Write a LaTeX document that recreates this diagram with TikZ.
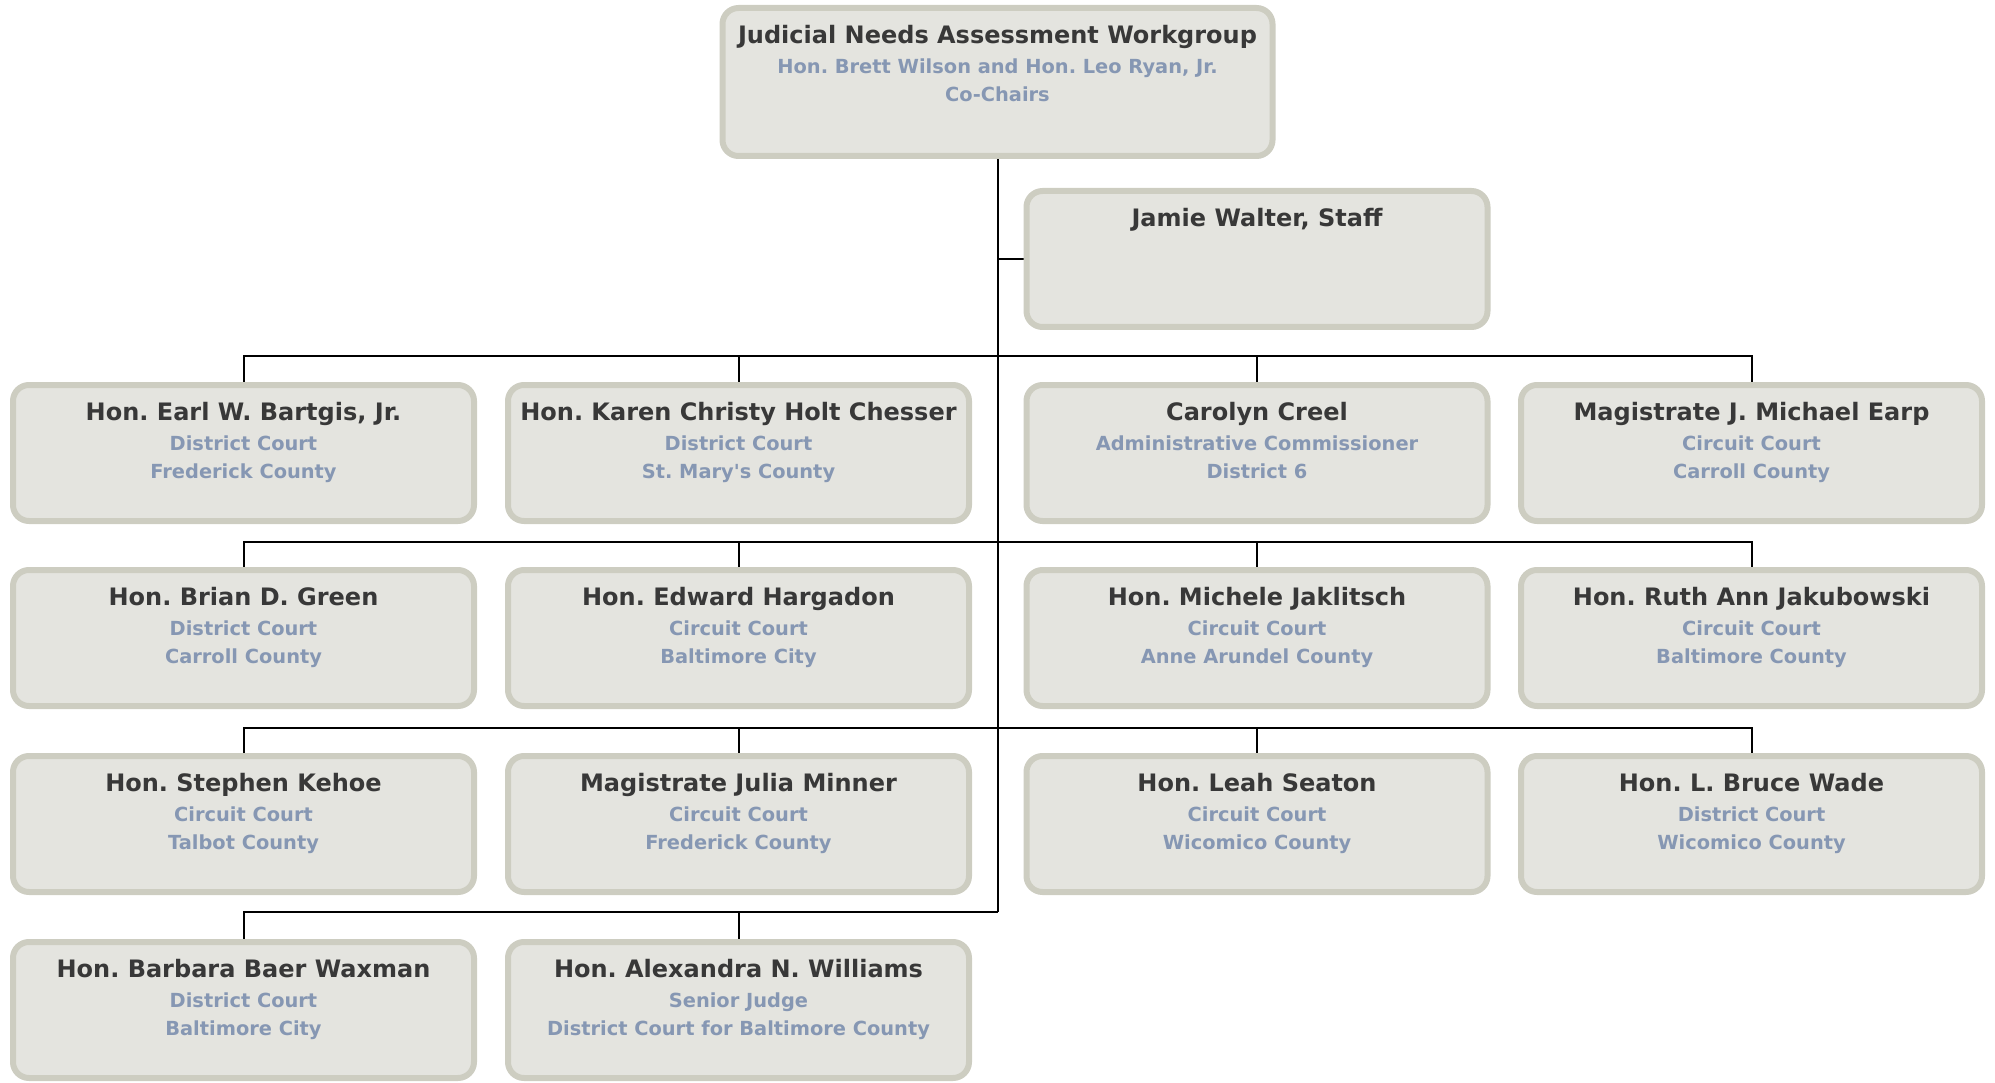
\documentclass[tikz,border=0pt]{standalone}
\usepackage{fontspec}
\setmainfont{DejaVu Sans}
\usetikzlibrary{positioning}
\usetikzlibrary{backgrounds}
\frenchspacing
\definecolor{cardfill}{HTML}{E4E4DF}
\definecolor{cardline}{HTML}{CDCDC1}
\definecolor{namegray}{HTML}{383838}
\definecolor{subblue}{HTML}{8697B3}
\newcommand{\namefont}{\fontsize{24}{28}\selectfont\bfseries\color{namegray}}
\newcommand{\member}[6]{%
    \node[card] (#1) at (#2,#3) {};
    \node[cardtext, below=20.5pt of #1.north] (#1-txt) {{\namefont #4}\\[1.5pt] #5\\ #6};
}

\begin{document}
\begin{tikzpicture}[x=1pt,y=-1pt,
    card/.style={draw=cardline, fill=cardfill, line width=6pt, rounded corners=16pt,
        minimum width=461pt, minimum height=136pt, inner sep=0pt},
    cardtext/.style={inner sep=0pt, align=center, text=subblue,
        font=\fontsize{19.4}{28}\selectfont\bfseries},
    wire/.style={draw=black, line width=2pt}]
    \useasboundingbox (0,0) rectangle (1995,1083);
    %head
    \node[card, minimum width=550pt, minimum height=148pt] (head) at (997.5,82) {};
    \node[cardtext, below=20.5pt of head.north] (head-txt) {{\namefont Judicial Needs Assessment Workgroup}\\[1.5pt] Hon. Brett Wilson and Hon. Leo Ryan, Jr.\\ Co-Chairs};
    \member{staff}{1257}{259}{Jamie Walter, Staff}{}{}
    %row 1
    \member{bartgis}{243.5}{453}{Hon. Earl W. Bartgis, Jr.}{District Court}{Frederick County}
    \member{chesser}{738.5}{453}{Hon. Karen Christy Holt Chesser}{District Court}{St. Mary\textquotesingle s County}
    \member{creel}{1257}{453}{Carolyn Creel}{Administrative Commissioner}{District 6}
    \member{earp}{1751.5}{453}{Magistrate J. Michael Earp}{Circuit Court}{Carroll County}
    %row 2
    \member{green}{243.5}{638}{Hon. Brian D. Green}{District Court}{Carroll County}
    \member{hargadon}{738.5}{638}{Hon. Edward Hargadon}{Circuit Court}{Baltimore City}
    \member{jaklitsch}{1257}{638}{Hon. Michele Jaklitsch}{Circuit Court}{Anne Arundel County}
    \member{jakubowski}{1751.5}{638}{Hon. Ruth Ann Jakubowski}{Circuit Court}{Baltimore County}
    %row 3
    \member{kehoe}{243.5}{824}{Hon. Stephen Kehoe}{Circuit Court}{Talbot County}
    \member{minner}{738.5}{824}{Magistrate Julia Minner}{Circuit Court}{Frederick County}
    \member{seaton}{1257}{824}{Hon. Leah Seaton}{Circuit Court}{Wicomico County}
    \member{wade}{1751.5}{824}{Hon. L. Bruce Wade}{District Court}{Wicomico County}
    %row 4
    \member{waxman}{243.5}{1010}{Hon. Barbara Baer Waxman}{District Court}{Baltimore City}
    \member{williams}{738.5}{1010}{Hon. Alexandra N. Williams}{Senior Judge}{District Court for Baltimore County}
    %wires
    \coordinate (bus1) at (997.5,356);
    \coordinate (bus2) at (997.5,542);
    \coordinate (bus3) at (997.5,728);
    \coordinate (bus4) at (997.5,912);
    \begin{scope}[on background layer]
        \draw[wire] (head.south) -- (bus4);
        \draw[wire] (staff.west -| head.south) -- (staff.west);
        \draw[wire] (bartgis.north) |- (bus1) -| (earp.north);
        \draw[wire] (chesser.north) -- (chesser.north |- bus1);
        \draw[wire] (creel.north) -- (creel.north |- bus1);
        \draw[wire] (green.north) |- (bus2) -| (jakubowski.north);
        \draw[wire] (hargadon.north) -- (hargadon.north |- bus2);
        \draw[wire] (jaklitsch.north) -- (jaklitsch.north |- bus2);
        \draw[wire] (kehoe.north) |- (bus3) -| (wade.north);
        \draw[wire] (minner.north) -- (minner.north |- bus3);
        \draw[wire] (seaton.north) -- (seaton.north |- bus3);
        \draw[wire] (waxman.north) |- (bus4);
        \draw[wire] (williams.north) -- (williams.north |- bus4);
    \end{scope}
\end{tikzpicture}
\end{document}
